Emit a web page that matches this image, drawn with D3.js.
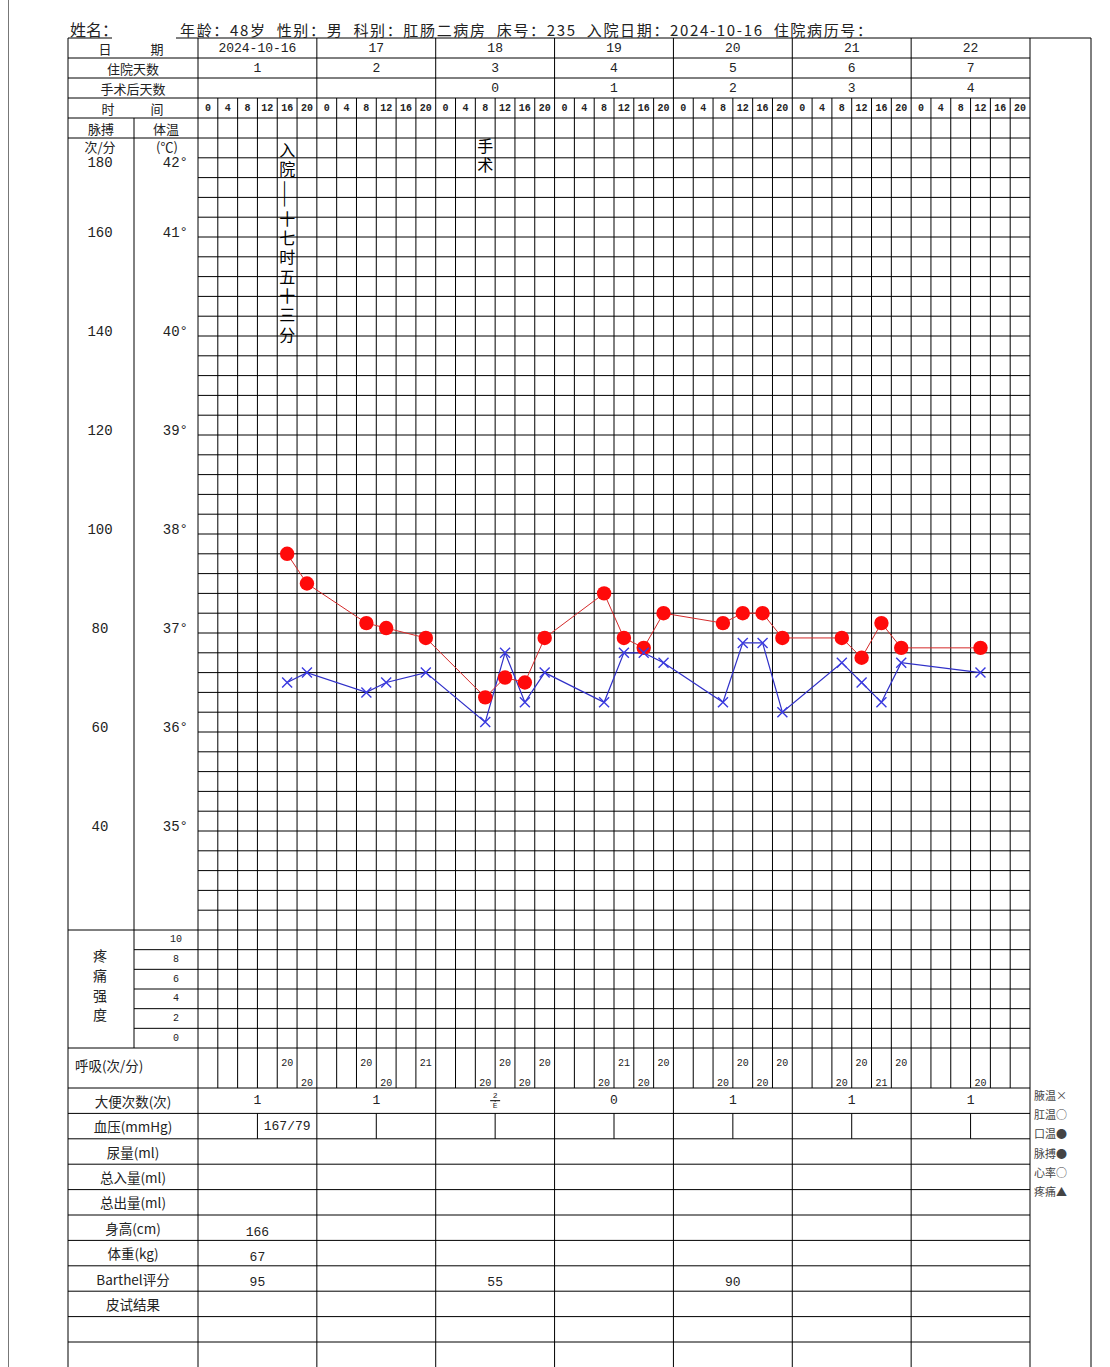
<!DOCTYPE html>
<html>
<head>
<meta charset="utf-8">
<script src="https://cdn.jsdelivr.net/npm/d3@7"></script>
<style>
body { margin: 0; background: #fff; }
text { font-family: "Noto Sans CJK SC", sans-serif; fill: #222; }
.num { font-family: "Liberation Mono", monospace; }
</style>
</head>
<body>
<div id="chart"></div>
<script>
// data
var dates = ["2024-10-16", "17", "18", "19", "20", "21", "22"];
var stayDays = ["1", "2", "3", "4", "5", "6", "7"];
var postOpDays = ["", "", "0", "1", "2", "3", "4"];
var hours = ["0", "4", "8", "12", "16", "20"];
var tempTicks = [42, 41, 40, 39, 38, 37, 36, 35];
var pulseTicks = [180, 160, 140, 120, 100, 80, 60, 40];
var painTicks = [10, 8, 6, 4, 2, 0];

// slot = index of 4-hour column from 2024-10-16 0h
var slots = [4, 5, 8, 9, 11, 14, 15, 16, 17, 20, 21, 22, 23, 26, 27, 28, 29, 32, 33, 34, 35, 39];
var pulse = [96, 90, 82, 81, 79, 67, 71, 70, 79, 88, 79, 77, 84, 82, 84, 84, 79, 79, 75, 82, 77, 77];
var temp = [36.5, 36.6, 36.4, 36.5, 36.6, 36.1, 36.8, 36.3, 36.6, 36.3, 36.8, 36.8, 36.7, 36.3, 36.9, 36.9, 36.2, 36.7, 36.5, 36.3, 36.7, 36.6];
var resp = [20, 20, 20, 20, 21, 20, 20, 20, 20, 20, 21, 20, 20, 20, 20, 20, 20, 20, 20, 21, 20, 20];

var stool = ["1", "1", "2/E", "0", "1", "1", "1"];
var bpPM = ["167/79", "", "", "", "", "", ""];
var heightCm = ["166", "", "", "", "", "", ""];
var weightKg = ["67", "", "", "", "", "", ""];
var barthel = ["95", "", "55", "", "90", "", ""];
var rowLabels = ["大便次数(次)", "血压(mmHg)", "尿量(ml)", "总入量(ml)", "总出量(ml)", "身高(cm)", "体重(kg)", "Barthel评分", "皮试结果", "", ""];
var legend = ["腋温×", "肛温○", "口温●", "脉搏●", "心率○", "疼痛▲"];
var events = [{slot: 4, text: "入院——十七时五十三分"}, {slot: 14, text: "手术"}];
var title = "年龄：48岁  性别：男  科别：肛肠二病房  床号：235  入院日期：2024-10-16  住院病历号：";

var W = 1110, H = 1367;
var L0 = 68, L1 = 134, L2 = 198, R0 = 1030, R1 = 1091;
var gridTop = 138, gridBot = 930, painBot = 1048, respBot = 1088;

var svg = d3.select("#chart").append("svg").attr("width", W).attr("height", H);

var x = d3.scaleLinear().domain([0, 42]).range([L2, R0]);
var yT = d3.scaleLinear().domain([42, 34]).range([gridTop, gridBot]);
var yP = d3.scaleLinear().domain([180, 20]).range([gridTop, gridBot]);
var yHead = d3.scaleBand().domain(d3.range(5)).range([38, gridTop]);
var yPain = d3.scaleBand().domain(painTicks).range([gridBot, painBot]);
var yRow = d3.scaleBand().domain(d3.range(rowLabels.length)).range([respBot, respBot + 25.4 * rowLabels.length]);
var mid = function(i) { return x(i + 0.5); };
var dayMid = function(d) { return x(d * 6 + 3); };

var g = svg.append("g").attr("stroke", "#000").attr("stroke-width", 1).attr("fill", "none");
function hline(y, x1, x2) { g.append("line").attr("x1", x1).attr("x2", x2).attr("y1", y).attr("y2", y); }
function vline(xx, y1, y2) { g.append("line").attr("x1", xx).attr("x2", xx).attr("y1", y1).attr("y2", y2); }
function label(xx, y, t, size, cls, anchor) {
  return svg.append("text").attr("x", xx).attr("y", y).attr("class", cls || null)
    .attr("font-size", size).attr("text-anchor", anchor || "middle")
    .attr("dominant-baseline", "central").text(t);
}

// page edge
svg.append("line").attr("x1", 8.5).attr("x2", 8.5).attr("y1", 0).attr("y2", H).attr("stroke", "#777");

// horizontal rules
hline(38, 68, 112);
hline(38, 176, R1);
d3.range(1, 5).forEach(function(i) { hline(yHead(i), L0, R0); });
hline(gridTop, L0, R0);
d3.range(1, 40).forEach(function(k) { hline(yT(42 - k * 0.2), L2, R0); });
hline(gridBot, L0, R0);
painTicks.slice(1).forEach(function(p) { hline(yPain(p), L1, R0); });
hline(painBot, L0, R0);
d3.range(rowLabels.length).forEach(function(r) { hline(yRow(r), L0, R0); });

// vertical rules
d3.range(0, 43).forEach(function(i) {
  if (i % 6 == 0) vline(x(i), 38, H);
  else vline(x(i), yHead(3), respBot);
});
vline(L0, 38, H);
vline(L1, yHead(4), painBot);
vline(R1, 38, H);
d3.range(7).forEach(function(d) { vline(dayMid(d), yRow(1), yRow(2)); });

// header
svg.append("text").attr("x", 70).attr("y", 29).attr("font-size", 16).attr("dominant-baseline", "central").text("姓名：");
svg.append("text").attr("x", 180).attr("y", 29).attr("font-size", 15).attr("dominant-baseline", "central")
  .attr("textLength", 692).attr("lengthAdjust", "spacing").attr("xml:space", "preserve").text(title);

var hc = function(i) { return yHead(i) + yHead.bandwidth() / 2; };
label(105, hc(0), "日", 13); label(157, hc(0), "期", 13);
label(133, hc(1), "住院天数", 13);
label(133, hc(2), "手术后天数", 13);
label(108, hc(3), "时", 13); label(157, hc(3), "间", 13);
label(101, hc(4), "脉搏", 13); label(166, hc(4), "体温", 13);

dates.forEach(function(t, d) { label(dayMid(d), hc(0), t, 13, "num"); });
stayDays.forEach(function(t, d) { label(dayMid(d), hc(1), t, 13, "num"); });
postOpDays.forEach(function(t, d) { label(dayMid(d), hc(2), t, 13, "num"); });
d3.range(42).forEach(function(i) {
  label(mid(i), hc(3), hours[i % 6], 10, "num").attr("font-weight", "bold");
});

// scale labels
label(100, 146, "次/分", 13);
label(167, 146, "(℃)", 13);
tempTicks.forEach(function(t) {
  var y = t == 42 ? yT(t) + 25 : yT(t) - 4;
  label(188, y, t + "°", 14, "num", "end");
});
pulseTicks.forEach(function(p) {
  var y = p == 180 ? yP(p) + 25 : yP(p) - 4;
  label(100, y, p, 14, "num");
});

// pain block
painTicks.forEach(function(p) { label(176, yPain(p) + yPain.bandwidth() / 2, p, 10, "num"); });
svg.append("text").attr("x", 100).attr("y", 949).attr("font-size", 14)
  .style("writing-mode", "vertical-rl").attr("letter-spacing", 5.7).text("疼痛强度");

// respiration
label(75, 1065, "呼吸(次/分)", 13.5, null, "start");
slots.forEach(function(s, i) {
  label(mid(s), i % 2 == 0 ? 1063 : 1083, resp[i], 10, "num");
});

// bottom table
rowLabels.forEach(function(t, r) { label(133, yRow(r) + yRow.bandwidth() / 2, t, 13.5); });
stool.forEach(function(t, d) {
  var cy = yRow(0) + yRow.bandwidth() / 2;
  if (t.indexOf("/") > 0) {
    var part = t.split("/");
    label(dayMid(d), cy - 5, part[0], 8, "num");
    vline(dayMid(d), cy, cy + 1);
    hline(cy, dayMid(d) - 5, dayMid(d) + 5);
    label(dayMid(d), cy + 5, part[1], 8, "num");
  } else label(dayMid(d), cy, t, 13, "num");
});
bpPM.forEach(function(t, d) { label(x(d * 6 + 4.5), yRow(1) + 13, t, 13, "num"); });
[heightCm, weightKg, barthel].forEach(function(arr, j) {
  arr.forEach(function(t, d) { label(dayMid(d), yRow(5 + j) + 17, t, 13, "num"); });
});

// legend
legend.forEach(function(t, i) { label(1034, 1095 + i * 19.2, t, 11, null, "start").style("fill", "#444"); });

// events written down the column
events.forEach(function(e) {
  svg.append("text").attr("x", mid(e.slot)).attr("y", e.slot == 4 ? 142 : 138)
    .attr("font-size", 16).attr("letter-spacing", 3.3)
    .style("writing-mode", "vertical-rl").style("fill", "#000").text(e.text);
});

// pulse (red) and temperature (blue)
var pts = slots.map(function(s, i) { return {s: s, p: pulse[i], t: temp[i]}; });
svg.append("path").datum(pts).attr("fill", "none").attr("stroke", "#3030c8").attr("stroke-width", 1.2)
  .attr("d", d3.line().x(function(d) { return mid(d.s); }).y(function(d) { return yT(d.t); }));
svg.append("path").datum(pts).attr("fill", "none").attr("stroke", "#d42a2a").attr("stroke-width", 1)
  .attr("d", d3.line().x(function(d) { return mid(d.s); }).y(function(d) { return yP(d.p); }));

svg.selectAll(".pulse").data(pts).enter().append("circle")
  .attr("class", "pulse")
  .attr("cx", function(d) { return mid(d.s); })
  .attr("cy", function(d) { return yP(d.p); })
  .attr("r", 7.2)
  .attr("fill", "#ff0a0a");

svg.selectAll(".temp").data(pts).enter().append("path")
  .attr("class", "temp")
  .attr("transform", function(d) { return "translate(" + mid(d.s) + "," + yT(d.t) + ")"; })
  .attr("d", "M-5,-5L5,5M-5,5L5,-5")
  .attr("stroke", "#3a3ae0").attr("stroke-width", 1.4);
</script>
</body>
</html>
